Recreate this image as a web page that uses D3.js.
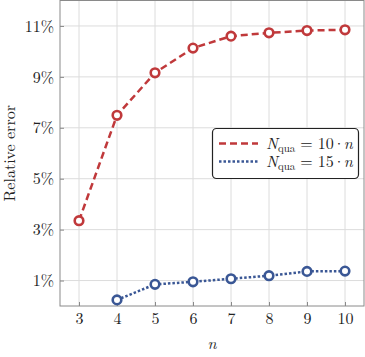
<!DOCTYPE html>
<html>
<head>
<meta charset="utf-8">
<script src="https://cdn.jsdelivr.net/npm/d3@7"></script>
<style>
  body { margin: 0; background: #fff; }
</style>
</head>
<body>
<div id="chart"></div>
<script>
var n_values = [3, 4, 5, 6, 7, 8, 9, 10];
var err_10n = [3.35, 7.49, 9.16, 10.13, 10.6, 10.73, 10.82, 10.85];
var n_values_15 = [4, 5, 6, 7, 8, 9, 10];
var err_15n = [0.24, 0.85, 0.95, 1.07, 1.19, 1.36, 1.37];
var y_ticks = [1, 3, 5, 7, 9, 11];
var x_ticks = [3, 4, 5, 6, 7, 8, 9, 10];

var graph_w = 365;
var graph_h = 357;
var red = "#c0393b";
var blue = "#3a5795";
var font = "'Latin Modern Roman', 'Liberation Serif', serif";

var x_ax = d3.scaleLinear().range([60, 364]).domain([2.5, 10.5]);
var y_ax = d3.scaleLinear().range([306, 0.5]).domain([0, 12]);

var svg_obj = d3.select("#chart").append("svg")
  .attr("width", graph_w)
  .attr("height", graph_h)
  .style("font-family", font);

// grid
svg_obj.append("g").selectAll("line")
  .data(x_ticks).enter().append("line")
    .attr("x1", function(d) { return x_ax(d); })
    .attr("x2", function(d) { return x_ax(d); })
    .attr("y1", y_ax.range()[0]).attr("y2", y_ax.range()[1])
    .attr("stroke", "#dcdcdc").attr("stroke-width", 1);
svg_obj.append("g").selectAll("line")
  .data(y_ticks).enter().append("line")
    .attr("y1", function(d) { return y_ax(d); })
    .attr("y2", function(d) { return y_ax(d); })
    .attr("x1", x_ax.range()[0]).attr("x2", x_ax.range()[1])
    .attr("stroke", "#dcdcdc").attr("stroke-width", 1);

// frame
svg_obj.append("rect")
  .attr("x", x_ax.range()[0]).attr("y", y_ax.range()[1])
  .attr("width", x_ax.range()[1] - x_ax.range()[0])
  .attr("height", y_ax.range()[0] - y_ax.range()[1])
  .attr("fill", "none").attr("stroke", "#8a8a8a").attr("stroke-width", 1);

// axes
var x_axis = svg_obj.append("g")
  .attr("transform", "translate(0," + y_ax.range()[0] + ")")
  .call(d3.axisBottom(x_ax).tickValues(x_ticks).tickSize(-4).tickPadding(7));
var y_axis = svg_obj.append("g")
  .attr("transform", "translate(" + x_ax.range()[0] + ",0)")
  .call(d3.axisLeft(y_ax).tickValues(y_ticks).tickSize(-4).tickPadding(6)
    .tickFormat(function(d) { return d + "%"; }));
[x_axis, y_axis].forEach(function(a) {
  a.attr("font-family", null).attr("font-size", null);
  a.select(".domain").remove();
  a.selectAll(".tick line").attr("stroke", "#8a8a8a");
  a.selectAll(".tick text").style("font-size", "16px")
    .style("font-family", font).attr("fill", "#222");
});

// axis titles
svg_obj.append("text")
  .attr("x", x_ax((2.5 + 10.5) / 2)).attr("y", 349)
  .attr("text-anchor", "middle").style("font-size", "16px").style("font-style", "italic")
  .attr("fill", "#222")
  .text("n");
svg_obj.append("text")
  .attr("transform", "translate(15," + y_ax(6) + ") rotate(-90)")
  .attr("text-anchor", "middle").style("font-size", "16px")
  .attr("fill", "#222")
  .text("Relative error");

var line_gen = d3.line()
  .x(function(d) { return x_ax(d[0]); })
  .y(function(d) { return y_ax(d[1]); });

function draw_series(xs, ys, color, dash) {
  var pts = xs.map(function(x, i) { return [x, ys[i]]; });
  svg_obj.append("path")
    .attr("d", line_gen(pts))
    .attr("fill", "none").attr("stroke", color)
    .attr("stroke-width", 2.5).attr("stroke-dasharray", dash);
  svg_obj.append("g").selectAll("circle")
    .data(pts).enter().append("circle")
      .attr("cx", function(d) { return x_ax(d[0]); })
      .attr("cy", function(d) { return y_ax(d[1]); })
      .attr("r", 4.3)
      .attr("fill", "#fff").attr("stroke", color).attr("stroke-width", 2.6);
}
draw_series(n_values, err_10n, red, "7,4");
draw_series(n_values_15, err_15n, blue, "2.5,2");

// legend
var legend = svg_obj.append("g");
legend.append("rect")
  .attr("x", 212.5).attr("y", 128.5).attr("width", 146).attr("height", 50)
  .attr("rx", 4).attr("fill", "#fff").attr("stroke", "#222").attr("stroke-width", 1.2);
var legend_items = [
  { label: "10", color: red, dash: "7,4", y: 143.5 },
  { label: "15", color: blue, dash: "2.5,2", y: 161.5 }
];
legend_items.forEach(function(it) {
  legend.append("line")
    .attr("x1", 219).attr("x2", 258).attr("y1", it.y).attr("y2", it.y)
    .attr("stroke", it.color).attr("stroke-width", 2.5).attr("stroke-dasharray", it.dash);
  var t = legend.append("text").attr("x", 266).attr("y", it.y + 5)
    .style("font-size", "16px").attr("fill", "#222");
  t.append("tspan").style("font-style", "italic").text("N");
  t.append("tspan").style("font-size", "11px").attr("dy", 3).text("qua");
  t.append("tspan").attr("dy", -3).attr("dx", 5).text("=");
  t.append("tspan").attr("dx", 5).text(it.label);
  t.append("tspan").attr("dx", -1).text("\u00b7");
  t.append("tspan").attr("dx", -1.5).style("font-style", "italic").text("n");
});
</script>
</body>
</html>
